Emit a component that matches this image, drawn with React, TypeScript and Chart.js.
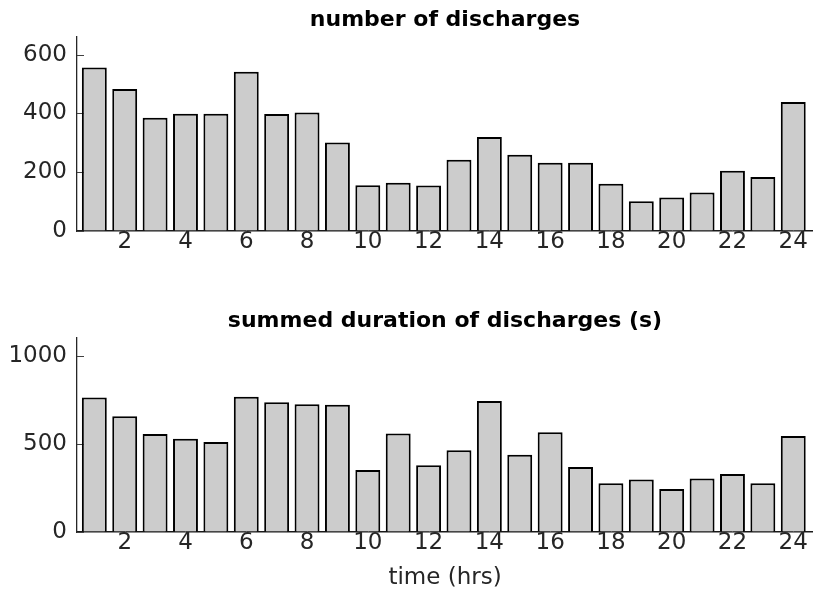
import React, { useEffect, useRef } from 'react';
import { Chart, registerables } from 'chart.js';

Chart.register(...registerables);

const hours = [1, 2, 3, 4, 5, 6, 7, 8, 9, 10, 11, 12, 13, 14, 15, 16, 17, 18, 19, 20, 21, 22, 23, 24];
const dischargeCounts = [556, 483, 385, 399, 399, 542, 398, 403, 301, 156, 164, 155, 242, 320, 259, 232, 232, 161, 101, 114, 131, 205, 184, 439];
const summedDurations = [762, 656, 556, 529, 510, 767, 735, 724, 722, 352, 559, 378, 463, 743, 438, 565, 369, 276, 298, 244, 304, 329, 276, 545];
const xTicks = [2, 4, 6, 8, 10, 12, 14, 16, 18, 20, 22, 24];
const countTicks = [0, 200, 400, 600];
const durationTicks = [0, 500, 1000];
const countTitle = 'number of discharges';
const durationTitle = 'summed duration of discharges (s)';
const xAxisTitle = 'time (hrs)';
const xMin = 0.43;
const xMax = 24.65;
const countMax = 660;
const durationMax = 1100;

const FONT = "'DejaVu Sans', 'Liberation Sans', Arial, sans-serif";
const TEXT = '#262626';

const inwardTicks = {
  id: 'inwardTicks',
  beforeDatasetsDraw(chart: any) {
    const { ctx, chartArea, scales } = chart;
    ctx.save();
    ctx.strokeStyle = '#404040';
    ctx.lineWidth = 1;
    ctx.beginPath();
    for (const t of scales.y.ticks) {
      const py = Math.round(scales.y.getPixelForValue(t.value)) + 0.5;
      ctx.moveTo(chartArea.left, py);
      ctx.lineTo(chartArea.left + 7, py);
    }
    for (const t of scales.x.ticks) {
      const px = Math.round(scales.x.getPixelForValue(t.value)) + 0.5;
      ctx.moveTo(px, chartArea.bottom);
      ctx.lineTo(px, chartArea.bottom - 7);
    }
    ctx.stroke();
    ctx.restore();
  },
};

type PanelProps = {
  top: number;
  height: number;
  title: string;
  values: number[];
  yMax: number;
  yTicks: number[];
  xTitle?: string;
};

function BarPanel({ top, height, title, values, yMax, yTicks, xTitle }: PanelProps) {
  const ref = useRef<HTMLCanvasElement | null>(null);
  useEffect(() => {
    if (!ref.current) return;
    const xScaleHeight = height - 231;
    const chart = new Chart(ref.current, {
      type: 'bar',
      data: {
        datasets: [
          {
            data: hours.map((h, i) => ({ x: h, y: values[i] })),
            backgroundColor: '#cccccc',
            borderColor: '#000000',
            borderWidth: 2,
            barPercentage: 0.82,
            categoryPercentage: 1,
          },
        ],
      },
      options: {
        responsive: false,
        animation: false,
        devicePixelRatio: 1,
        layout: { padding: 0 },
        plugins: {
          legend: { display: false },
          tooltip: { enabled: false },
          title: {
            display: true,
            text: title,
            fullSize: false,
            color: '#000',
            font: { family: FONT, size: 22, weight: 'bold', lineHeight: 1.2 },
            padding: { top: 7, bottom: 3.6 },
          },
        },
        scales: {
          x: {
            type: 'linear',
            min: xMin,
            max: xMax,
            offset: false,
            grid: { display: true, drawOnChartArea: false, drawTicks: false },
            border: { display: true, color: '#1a1a1a', width: 1.6 },
            afterBuildTicks: (scale: any) => {
              scale.ticks = xTicks.map((v) => ({ value: v }));
            },
            afterFit: (scale: any) => {
              scale.height = xScaleHeight;
            },
            ticks: {
              autoSkip: false,
              maxRotation: 0,
              padding: 0,
              color: TEXT,
              font: { family: FONT, size: 23, lineHeight: 1 },
              callback: (v: any) => String(v),
            },
            title: xTitle
              ? {
                  display: true,
                  text: xTitle,
                  color: TEXT,
                  font: { family: FONT, size: 23, lineHeight: 1 },
                  padding: { top: 0, bottom: 0 },
                }
              : { display: false },
          },
          y: {
            type: 'linear',
            min: 0,
            max: yMax,
            grid: { display: true, drawOnChartArea: false, drawTicks: false },
            border: { display: true, color: '#262626', width: 1.3 },
            afterBuildTicks: (scale: any) => {
              scale.ticks = yTicks.map((v) => ({ value: v }));
            },
            afterFit: (scale: any) => {
              scale.width = 77;
            },
            ticks: {
              padding: 10,
              color: TEXT,
              font: { family: FONT, size: 23, lineHeight: 1 },
              callback: (v: any) => String(v),
            },
          },
        },
      } as any,
      plugins: [inwardTicks],
    });
    return () => chart.destroy();
  }, [height, title, values, yMax, yTicks, xTitle]);
  return (
    <canvas
      ref={ref}
      width={813}
      height={height}
      style={{ position: 'absolute', left: 0, top, display: 'block' }}
    />
  );
}

export default function App() {
  return (
    <div style={{ position: 'absolute', left: 0, top: 0, width: 813, height: 590, background: '#fff', overflow: 'hidden' }}>
      <BarPanel top={0} height={265} title={countTitle} values={dischargeCounts} yMax={countMax} yTicks={countTicks} />
      <BarPanel
        top={301}
        height={289}
        title={durationTitle}
        values={summedDurations}
        yMax={durationMax}
        yTicks={durationTicks}
        xTitle={xAxisTitle}
      />
    </div>
  );
}
